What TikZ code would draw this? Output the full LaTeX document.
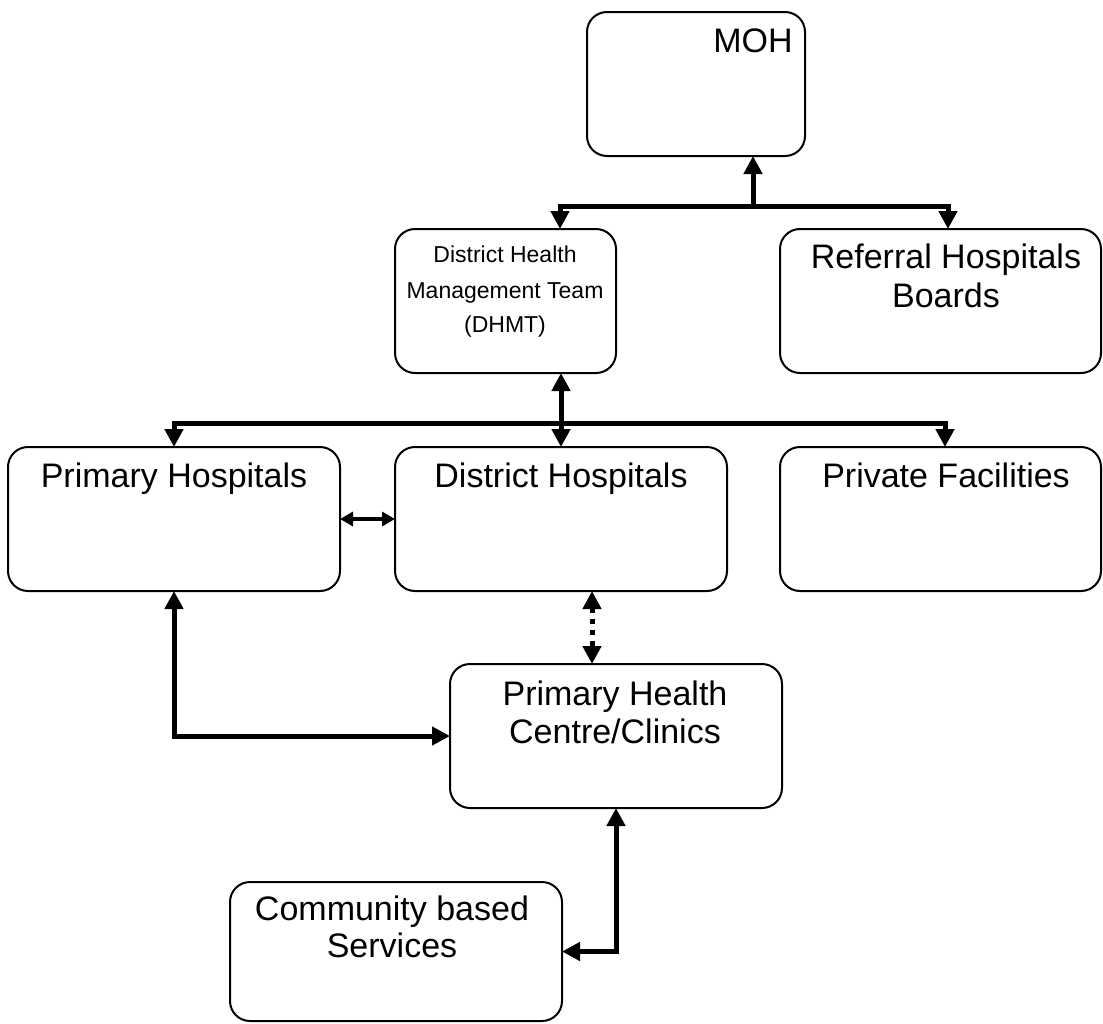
\documentclass[tikz,border=0pt]{standalone}
\usepackage{fontspec}
\setmainfont{Liberation Sans}
\usetikzlibrary{arrows.meta}
\begin{document}
\begin{tikzpicture}[x=1pt,y=-1pt,
  box/.style={draw, line width=2pt, rounded corners=20pt, rectangle, inner sep=0pt, outer sep=0pt},
  big/.style={anchor=base, inner sep=0pt, font=\fontsize{34}{40}\selectfont},
  small/.style={anchor=base, inner sep=0pt, font=\fontsize{23}{28}\selectfont},
  arr/.style={line width=5pt, -{Triangle[length=18pt,width=18pt]}},
  arrb/.style={line width=5pt, {Triangle[length=18pt,width=18pt]}-{Triangle[length=18pt,width=18pt]}},
  arrs/.style={line width=4pt, {Triangle[length=13pt,width=14pt]}-{Triangle[length=13pt,width=14pt]}},
  dotarr/.style={line width=5pt, dash pattern=on 5pt off 6pt, {Triangle[length=18pt,width=18pt]}-{Triangle[length=18pt,width=18pt]}}
]
\useasboundingbox (0,0) rectangle (1103,1023);
% boxes
\node[box, minimum width=218pt, minimum height=144pt] (moh) at (696,84) {};
\node[box, minimum width=221pt, minimum height=144pt] (dhmt) at (505.5,301) {};
\node[box, minimum width=321pt, minimum height=144pt] (ref) at (940.5,301) {};
\node[box, minimum width=332pt, minimum height=144pt] (ph) at (174,519) {};
\node[box, minimum width=332pt, minimum height=144pt] (dh) at (561,519) {};
\node[box, minimum width=321pt, minimum height=144pt] (pf) at (940.5,519) {};
\node[box, minimum width=332pt, minimum height=144pt] (phc) at (616,736) {};
\node[box, minimum width=332pt, minimum height=139pt] (cbs) at (396,951.5) {};
% texts
\node[big] (t-moh) at (753,52) {MOH};
\node[small] (t-dhmt1) at (505,262) {District Health};
\node[small] (t-dhmt2) at (505,298) {Management Team};
\node[small] (t-dhmt3) at (505,332) {(DHMT)};
\node[big] (t-ref1) at (946,268) {Referral Hospitals};
\node[big] (t-ref2) at (946,307) {Boards};
\node[big] (t-ph) at (174,487) {Primary Hospitals};
\node[big] (t-dh) at (561,487) {District Hospitals};
\node[big] (t-pf) at (946,487) {Private Facilities};
\node[big] (t-phc1) at (615,705) {Primary Health};
\node[big] (t-phc2) at (615,743) {Centre/Clinics};
\node[big] (t-cbs1) at (392,920) {Community based};
\node[big] (t-cbs2) at (392,957) {Services};
% connectors
\coordinate (mj) at (753,206);
\coordinate (mL) at (560,206);
\coordinate (mR) at (948,206);
\draw[arr] (mj) -- (moh.south -| mj);
\draw[arrb] (dhmt.north -| mL) -- (mL) -- (mR) -- (ref.north -| mR);
\coordinate (dL) at (174,423);
\coordinate (dR) at (945,423);
\draw[arrb] (dhmt.south -| dh.north) -- (dh.north);
\draw[arrb] (ph.north) -- (ph.north |- dL) -- (dR) -- (pf.north -| dR);
\draw[arrs] (ph.east) -- (dh.west);
\coordinate (dotx) at (592,627);
\draw[dotarr] (dh.south -| dotx) -- (phc.north -| dotx);
\draw[arrb] (ph.south) -- (ph.south |- phc.west) -- (phc.west);
\draw[arrb] (phc.south) -- (phc.south |- cbs.east) -- (cbs.east);
\end{tikzpicture}
\end{document}
